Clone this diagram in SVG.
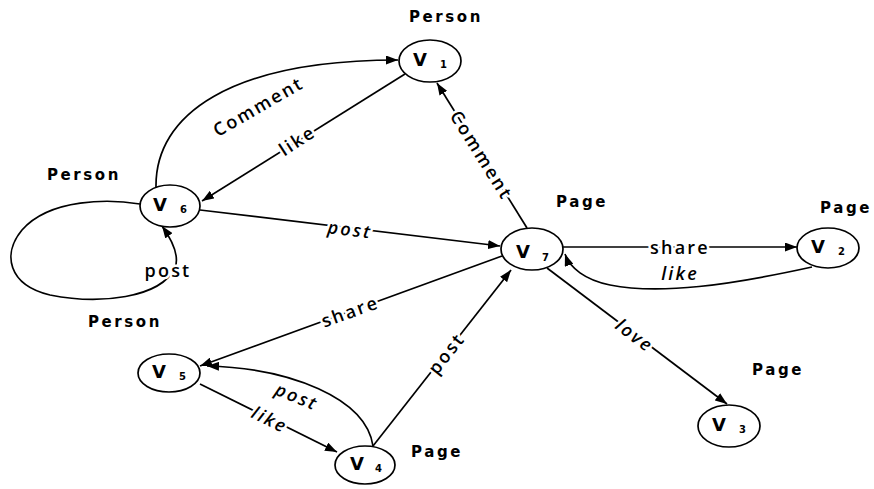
<svg xmlns="http://www.w3.org/2000/svg" width="874" height="489" viewBox="0 0 874 489">
  <style>
    .node ellipse { fill: #fff; stroke: #000; stroke-width: 1.7; }
    .v { font-family: "DejaVu Sans", "Liberation Sans", sans-serif; font-weight: bold; font-size: 18px; fill: #000; }
    .sub { font-family: "DejaVu Sans", "Liberation Sans", sans-serif; font-weight: bold; font-size: 10px; fill: #000; }
    .type { font-family: "DejaVu Sans", "Liberation Sans", sans-serif; font-weight: bold; font-size: 15px; letter-spacing: 2.6px; fill: #000; text-anchor: middle; }
    .edge { fill: none; stroke: #000; stroke-width: 1.7; }
    .lbl { font-family: "Open Sans", "Liberation Sans", sans-serif; font-weight: 600; font-size: 18px; letter-spacing: 2.2px; fill: #000; text-anchor: middle; dominant-baseline: central; stroke: #fff; stroke-width: 5px; paint-order: stroke; stroke-linejoin: round; }
    .it { font-style: italic; }
  </style>
  <defs>
    <marker id="arrow" viewBox="0 0 12 9" refX="12" refY="4.5" markerWidth="12" markerHeight="9" markerUnits="userSpaceOnUse" orient="auto">
      <path d="M0,0 L12,4.5 L0,9 z" fill="#000"/>
    </marker>
  </defs>
  <rect width="874" height="489" fill="#fff"/>

  <!-- connectors -->
  <g id="edges">
    <path class="edge" d="M156,187 C155,115 230,60 398,60" marker-end="url(#arrow)"/>
    <path class="edge" d="M405,74 L202,201" marker-end="url(#arrow)"/>
    <path class="edge" d="M200,210 L500,246" marker-end="url(#arrow)"/>
    <path class="edge" d="M140,204 C110,199 50,198 22,230 C2,254 8,285 50,295 C100,305 160,298 175,268 C180,255 172,240 162,226" marker-end="url(#arrow)"/>
    <path class="edge" d="M527,228 L437,83" marker-end="url(#arrow)"/>
    <path class="edge" d="M563,247 L797,247" marker-end="url(#arrow)"/>
    <path class="edge" d="M812,267 C730,285 660,295 610,285 C585,280 570,268 565,254" marker-end="url(#arrow)"/>
    <path class="edge" d="M547,268 L727,404" marker-end="url(#arrow)"/>
    <path class="edge" d="M502,256 L200,366" marker-end="url(#arrow)"/>
    <path class="edge" d="M373,446 L511,270" marker-end="url(#arrow)"/>
    <path class="edge" d="M373,446 C366,398 290,368 207,366" marker-end="url(#arrow)"/>
    <path class="edge" d="M200,384 L337,452" marker-end="url(#arrow)"/>

    <text class="lbl" transform="translate(258,106) rotate(-30)">Comment</text>
    <text class="lbl" transform="translate(297,140) rotate(-33)">like</text>
    <text class="lbl it" transform="translate(350,229) rotate(7)">post</text>
    <text class="lbl" x="168" y="270">post</text>
    <text class="lbl" transform="translate(482,155) rotate(58)">Comment</text>
    <text class="lbl" x="680" y="247">share</text>
    <text class="lbl it" x="680" y="273">like</text>
    <text class="lbl it" transform="translate(635,335) rotate(37)">love</text>
    <text class="lbl" transform="translate(350,311) rotate(-20)">share</text>
    <text class="lbl" transform="translate(446,353) rotate(-52)">post</text>
    <text class="lbl it" transform="translate(297,396) rotate(22)">post</text>
    <text class="lbl it" transform="translate(270,419) rotate(26)">like</text>
  </g>

  <!-- vertices -->
  <g id="v1" class="node">
    <ellipse cx="430" cy="61" rx="31" ry="21"/>
    <text class="v" x="413" y="66">V</text><text class="sub" x="440" y="68">1</text>
    <text class="type" x="446" y="22">Person</text>
  </g>
  <g id="v2" class="node">
    <ellipse cx="828" cy="248" rx="31" ry="20"/>
    <text class="v" x="811" y="253">V</text><text class="sub" x="838" y="255">2</text>
    <text class="type" x="846" y="213">Page</text>
  </g>
  <g id="v3" class="node">
    <ellipse cx="729" cy="426" rx="31" ry="21"/>
    <text class="v" x="712" y="431">V</text><text class="sub" x="739" y="433">3</text>
    <text class="type" x="778" y="375">Page</text>
  </g>
  <g id="v4" class="node">
    <ellipse cx="365" cy="465" rx="30" ry="19"/>
    <text class="v" x="350" y="470">V</text><text class="sub" x="375" y="472">4</text>
    <text class="type" x="437" y="457">Page</text>
  </g>
  <g id="v5" class="node">
    <ellipse cx="169" cy="373" rx="31" ry="19"/>
    <text class="v" x="152" y="378">V</text><text class="sub" x="179" y="380">5</text>
  </g>
  <g id="v6" class="node">
    <ellipse cx="170" cy="206" rx="30" ry="21"/>
    <text class="v" x="153" y="211">V</text><text class="sub" x="180" y="213">6</text>
    <text class="type" x="84" y="180">Person</text>
    <text class="type" x="125" y="327">Person</text>
  </g>
  <g id="v7" class="node">
    <ellipse cx="532" cy="249" rx="31" ry="21"/>
    <text class="v" x="516" y="258">V</text><text class="sub" x="542" y="261">7</text>
    <text class="type" x="582" y="207">Page</text>
  </g>
</svg>
